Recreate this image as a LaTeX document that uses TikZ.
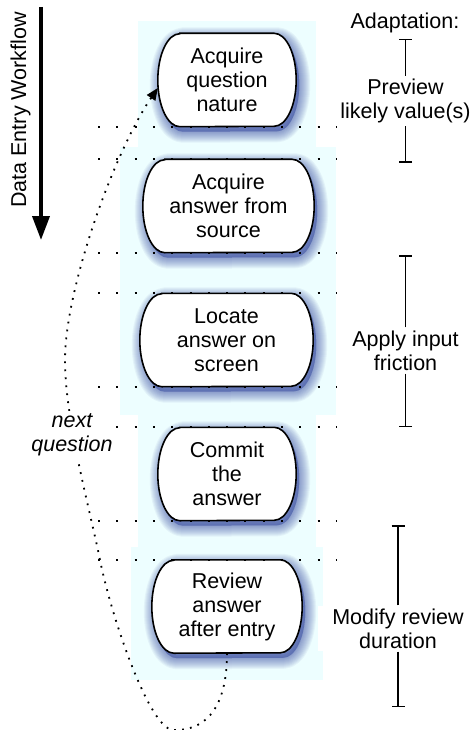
\documentclass[tikz,border=0pt]{standalone}
\usepackage{fontspec}
\setmainfont{Liberation Sans}
\usetikzlibrary{arrows.meta}
\pgfdeclarelayer{back}
\pgfdeclarelayer{glow}
\pgfsetlayers{back,glow,main}
\definecolor{panel}{RGB}{237,254,255}
\definecolor{glowblue}{RGB}{50,70,160}
% outline of a step box: straight top and bottom, half-elliptic sides
\newcommand\boxoutline[1]{([xshift=22pt]#1.north west) -- ([xshift=-22pt]#1.north east)
  arc[start angle=90, end angle=-90, x radius=22pt, y radius=46.5pt]
  -- ([xshift=22pt]#1.south west)
  arc[start angle=270, end angle=90, x radius=22pt, y radius=46.5pt] -- cycle}
\tikzset{
  txt/.style={font=\fontsize{21.5}{24}\selectfont},
  stepbox/.style={txt, inner sep=0pt, minimum height=93pt, align=center},
  boxline/.style={draw=black, fill=white, line width=1.6pt},
  boxglow/.style={draw=glowblue, fill=glowblue, opacity=0.06, line join=round,
    transform canvas={shift={(3pt,-5pt)}}},
  guide/.style={line width=2pt, dash pattern=on 2pt off 16.3pt},
  loopline/.style={line width=1.8pt, dash pattern=on 1.8pt off 6.2pt,
    -{Triangle[length=12pt,width=10pt]}},
  brlabel/.style={txt, align=center, fill=white, inner xsep=14pt, inner ysep=3pt},
  bracket/.style={line width=1.5pt, -{Bar[width=13pt,line width=1.5pt]}},
}
\begin{document}
\begin{tikzpicture}[x=1pt,y=-1pt]
\useasboundingbox (0,0) rectangle (471,730);

% light panels behind the steps
\begin{pgfonlayer}{back}
  \fill[panel] (138,21) rectangle (316,147);
  \fill[panel] (120,147) rectangle (336,415);
  \fill[panel] (138,415) rectangle (316,547);
  \fill[panel] (131,547) rectangle (323,680);
\end{pgfonlayer}

% workflow steps
\node[stepbox, minimum width=138pt] (q) at (227,80)    {Acquire\\question\\nature};
\node[stepbox, minimum width=171pt] (a) at (228.5,206) {Acquire\\answer from\\source};
\node[stepbox, minimum width=173pt] (l) at (226.5,340) {Locate\\answer on\\screen};
\node[stepbox, minimum width=138pt] (c) at (227,474)   {Commit\\the\\answer};
\node[stepbox, minimum width=150pt] (r) at (227,606.5) {Review\\answer\\after entry};

\begin{pgfonlayer}{glow}
  \foreach \n in {q,a,l,c,r}{
    \foreach \w in {2,4,...,22}
      \path[boxglow, line width=\w*1pt] \boxoutline{\n};
    \path[boxline] \boxoutline{\n};
  }
\end{pgfonlayer}

% dotted guides at the step edges
\coordinate (gl) at (98,0);
\coordinate (gr) at (337,0);
\foreach \p in {q.south,a.north,a.south,l.north,l.south,c.north,c.south,r.north}
  \draw[guide] (\p -| gl) -- (\p -| gr);

% workflow direction
\coordinate (flowtop) at (41,7);
\coordinate (flowend) at (41,240);
\draw[line width=3.8pt, -{Triangle[length=24pt,width=17pt]}] (flowtop) -- (flowend);
\node[txt, rotate=90, anchor=base] (flowlabel) at (26,110) {Data Entry Workflow};

% loop back to the first step
\coordinate (loopbottom) at (173,730);
\coordinate (loopmid) at (100,560);
\coordinate (loopleft) at (65,360);
\draw[loopline] (r.south) .. controls (227,715) and (200,731) .. (loopbottom)
  .. controls (150,729) and (112,620) .. (loopmid)
  .. controls (90,510) and (65,420) .. (loopleft)
  .. controls (65,290) and (113,154) .. ([yshift=-8pt]q.west);
\node[txt, font=\fontsize{21.5}{24}\selectfont\itshape, align=center, fill=white, inner sep=3pt]
  (next) at (72,435) {next\\question};

% adaptations
\node[txt, anchor=base] (adapt) at (405,28.5) {Adaptation:};

\node[brlabel] (pv) at (405.5,101) {Preview\\likely value(s)};
\coordinate (pvtop) at (405.5,39);
\coordinate (pvbot) at (405.5,163);
\draw[bracket] (pv) -- (pvtop);
\draw[bracket] (pv) -- (pvbot);

\node[brlabel] (fr) at (405.5,350.5) {Apply input\\friction};
\coordinate (frtop) at (405.5,255);
\coordinate (frbot) at (405.5,427);
\draw[bracket] (fr) -- (frtop);
\draw[bracket] (fr) -- (frbot);

\node[brlabel] (md) at (398,628.5) {Modify review\\duration};
\coordinate (mdtop) at (398,525);
\coordinate (mdbot) at (398,707);
\draw[bracket] (md) -- (mdtop);
\draw[bracket] (md) -- (mdbot);
\end{tikzpicture}
\end{document}
